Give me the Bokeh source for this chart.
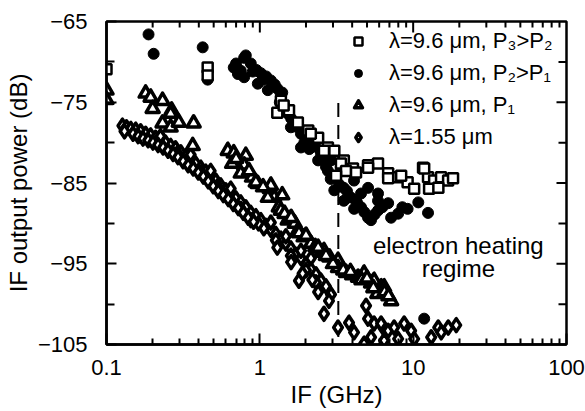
import math
from bokeh.plotting import figure
from bokeh.models import (FixedTicker, Legend, LegendItem,
                          CustomJSTickFormatter, Range1d)
from bokeh.core.properties import value
from bokeh.embed import file_html
from bokeh.resources import INLINE

FONT = "Liberation Sans"

# ---------------- data (IF in GHz, power in dB) ----------------
sq_f = [0.1, 0.457, 0.457, 1.372, 1.30, 1.55, 1.43, 1.77, 2.07, 2.40,
        2.78, 3.06, 3.53, 4.05, 2.15, 2.62, 3.38, 5.08, 5.90, 6.87,
        7.98, 9.2, 10.15, 11.6, 12.5, 13.7, 15.2, 16.9, 12.7, 14.6,
        18.2, 5.08, 6.87, 8.35, 11.8, 3.65, 3.14, 4.24]
sq_db = [-70.9, -70.7, -71.7, -74.8, -76.3, -76.0, -75.4, -77.5, -78.5, -79.4,
         -80.6, -81.0, -82.2, -83.2, -78.9, -81.0, -82.6, -82.8, -82.6, -83.8,
         -84.3, -84.9, -85.7, -83.1, -84.3, -84.7, -84.3, -84.7, -85.7, -85.6,
         -84.4, -83.1, -84.4, -84.1, -83.2, -83.5, -84.1, -83.7]

ci_f = [0.188, 0.203, 0.424, 0.457, 0.676, 0.79, 0.81, 0.873, 1.015, 1.18,
        1.30, 0.79, 0.97, 1.128, 0.751, 1.52, 1.594, 1.854, 1.854, 2.154,
        2.505, 2.912, 2.78, 3.06, 3.53, 3.93, 4.57, 5.08, 5.9, 6.87,
        7.18, 5.9, 7.98, 9.2, 10.8, 12.5, 3.383, 4.116, 5.08, 4.57,
        5.9, 3.53, 3.06, 5.31, 4.12, 11.8,
        1.37, 1.45, 1.7, 2.0, 2.3, 2.6,
        0.70, 0.72, 0.9, 1.05, 1.1, 1.25,
        0.95, 1.2, 1.35, 1.4, 1.6, 1.75, 1.95, 2.1, 2.4, 2.7,
        2.9, 3.3, 3.7, 4.3, 4.8, 5.6, 6.3, 8.5]
ci_db = [-66.6, -69.0, -68.2, -72.2, -70.7, -69.5, -69.2, -70.2, -71.4, -72.3,
         -73.3, -71.9, -72.7, -73.5, -71.1, -76.4, -78.1, -78.9, -80.6, -79.7,
         -81.3, -82.2, -83.5, -84.3, -85.6, -86.8, -88.0, -89.3, -88.4, -87.5,
         -89.3, -87.2, -88.8, -88.2, -87.4, -88.7, -83.5, -84.7, -85.6, -86.3,
         -86.3, -87.2, -85.9, -89.6, -88.2, -101.8,
         -74.0, -75.5, -78.0, -79.5, -80.5, -82.0,
         -70.2, -71.5, -71.2, -72.2, -71.8, -72.8,
         -71.0, -73.0, -75.0, -73.8, -77.0, -77.8, -80.0, -80.8, -82.2, -83.0,
         -84.5, -85.2, -86.0, -87.4, -88.6, -88.9, -88.0, -88.0]

tr_f = [0.1, 0.1, 0.180, 0.194, 0.232, 0.200, 0.266, 0.262, 0.232, 0.262,
        0.296, 0.37, 0.365, 0.618, 0.676, 0.81, 0.66, 0.79, 0.89, 0.97,
        1.16, 1.24, 1.33, 0.751, 0.942, 1.18, 1.128, 1.40, 1.372, 1.52,
        1.69, 1.772, 1.93, 2.154, 2.505, 2.62, 3.235, 3.235, 3.648, 4.372,
        4.782, 5.314, 5.56, 5.84, 6.178, 6.464, 7.181,
        2.3, 2.85, 3.0, 4.0,
        0.7, 0.85, 1.05, 1.45, 1.6, 1.8, 2.0, 2.4, 2.7, 3.5,
        3.9, 4.6, 5.0, 5.5, 6.5, 6.9]
tr_db = [-73.5, -74.7, -73.9, -74.4, -74.8, -75.8, -76.0, -76.4, -77.6, -78.1,
         -77.5, -77.6, -80.4, -81.0, -81.3, -81.6, -82.6, -82.8, -84.3, -85.1,
         -85.7, -86.8, -88.0, -83.8, -84.9, -85.3, -86.8, -86.5, -88.4, -89.6,
         -90.0, -90.9, -91.7, -92.5, -93.6, -93.4, -94.6, -95.5, -96.1, -96.7,
         -96.2, -97.4, -97.1, -98.7, -97.9, -97.9, -99.6,
         -92.9, -94.2, -95.0, -96.4,
         -82.0, -83.5, -85.5, -88.8, -89.3, -91.2, -91.5, -93.0, -94.0, -95.8,
         -96.0, -97.0, -96.8, -98.0, -98.5, -99.0]

di_f = [0.127, 0.135, 0.144, 0.155, 0.167, 0.180, 0.194, 0.209, 0.225, 0.243,
        0.262, 0.282, 0.305, 0.328, 0.354, 0.382, 0.412, 0.444, 0.478, 0.516,
        0.556, 0.600, 0.646, 0.697, 0.751, 0.810, 0.873, 0.942, 1.015, 1.094,
        1.180, 1.272, 1.372, 1.479, 1.594, 1.719, 1.854, 1.998, 2.154, 2.323,
        2.505, 2.701, 2.912,
        1.799, 2.825, 2.620, 3.235, 3.817, 4.116, 4.782, 5.080, 5.560, 6.367,
        4.929, 5.314, 6.178, 6.866, 7.513, 8.735, 9.70, 6.464, 7.980, 10.15,
        13.11, 14.57, 16.93, 15.24, 19.10,
        0.873, 1.062, 1.272, 1.594, 1.998, 2.323,
        1.180, 1.479, 1.854, 2.154,
        0.225, 0.354, 0.478, 0.646, 0.412, 0.751,
        1.3, 1.6, 1.9, 2.2, 2.4, 0.29, 0.53, 0.98,
        0.131, 0.149, 0.161, 0.173, 0.187, 0.201, 0.217, 0.234, 0.252, 0.272,
        0.293, 0.316, 0.341, 0.368, 0.397, 0.428, 0.461, 0.497, 0.536, 0.578,
        0.623, 0.672, 0.724, 0.78, 0.84, 0.91]
di_db = [-77.9, -78.1, -78.3, -78.4, -78.6, -78.9, -79.1, -79.4, -79.7, -80.0,
         -80.4, -80.7, -81.2, -81.7, -82.1, -82.6, -83.1, -83.6, -84.1, -84.7,
         -85.3, -85.9, -86.4, -86.9, -87.4, -88.0, -88.7, -89.1, -89.6, -90.3,
         -90.8, -91.3, -91.9, -92.5, -93.1, -93.9, -94.3, -95.1, -95.7, -96.3,
         -97.1, -97.8, -98.8,
         -97.1, -99.6, -101.2, -102.9, -102.3, -103.5, -104.9, -101.8, -102.4, -102.9,
         -100.2, -104.1, -102.4, -103.3, -102.9, -102.4, -103.3, -104.5, -104.3, -104.3,
         -104.1, -102.9, -102.9, -103.5, -102.6,
         -89.6, -90.6, -92.1, -94.0, -95.8, -97.3,
         -89.9, -91.6, -93.4, -94.3,
         -79.2, -81.5, -83.5, -85.7, -83.7, -88.2,
         -93.0, -94.8, -96.2, -97.0, -98.5, -81.3, -85.4, -90.0,
         -78.6, -78.9, -79.2, -79.5, -79.7, -80.0, -80.3, -80.6, -81.0, -81.4,
         -81.8, -82.3, -82.8, -83.2, -83.7, -84.2, -84.8, -85.4, -86.0, -86.5,
         -87.0, -87.6, -88.1, -88.7, -89.3, -89.8]

legend_labels = ["λ=9.6 μm, P₃>P₂", "λ=9.6 μm, P₂>P₁", "λ=9.6 μm, P₁", "λ=1.55 μm"]

x_major = [0.1, 1, 10, 100]
x_minor = [0.2, 0.3, 0.4, 0.5, 0.6, 0.7, 0.8, 0.9, 2, 3, 4, 5, 6, 7, 8, 9,
           20, 30, 40, 50, 60, 70, 80, 90]
y_major = [-105, -95, -85, -75, -65]
y_minor = [-100, -90, -80, -70]
x_lo, x_hi = 0.1, 100
y_lo, y_hi = -105, -65

regime_f = 3.25         # dashed boundary (GHz)
regime_top = -75.1
note_f = 19.7
note_lines = ["electron heating", "regime"]
note_db = [-92.7, -95.6]

# ---------------- figure ----------------
p = figure(width=585, height=411, x_axis_type="log",
           x_range=Range1d(x_lo, x_hi), y_range=Range1d(y_lo, y_hi),
           output_backend="svg", toolbar_location=None,
           min_border_left=106, min_border_right=19,
           min_border_top=21, min_border_bottom=67,
           x_axis_label="IF (GHz)", y_axis_label="IF output power (dB)")
p.xgrid.visible = False
p.ygrid.visible = False
p.outline_line_color = "black"
p.outline_line_width = 2.5
p.background_fill_color = "white"
p.border_fill_color = "white"

xt = FixedTicker(ticks=x_major, minor_ticks=x_minor)
yt = FixedTicker(ticks=y_major, minor_ticks=y_minor)


def style(ax, maj, mnr):
    ax.axis_line_width = 2.5
    ax.axis_line_color = "black"
    ax.major_tick_line_width = 2
    ax.minor_tick_line_width = 2
    ax.major_tick_in = maj
    ax.major_tick_out = 0
    ax.minor_tick_in = mnr
    ax.minor_tick_out = 0
    ax.major_label_text_font = FONT
    ax.major_label_text_font_size = "22px"
    ax.major_label_text_color = "black"
    ax.axis_label_text_font = FONT
    ax.axis_label_text_font_size = "24px"
    ax.axis_label_text_font_style = "normal"
    ax.axis_label_text_color = "black"


xa = p.xaxis[0]
xa.ticker = xt
xa.formatter = CustomJSTickFormatter(code="return tick.toString();")
style(xa, 11, 6)
xa.major_label_standoff = 15
xa.axis_label_standoff = 3

ya = p.yaxis[0]
ya.ticker = yt
style(ya, 10, 8)
ya.major_label_standoff = 19
ya.axis_label_standoff = 3

# inward ticks on the top and right edges (mirroring the axes)
top_major = [t for t in x_major if x_lo < t < x_hi]
p.ray(x=top_major, y=[y_hi] * len(top_major), length=11, length_units="screen",
      angle=-math.pi / 2, line_color="black", line_width=2)
p.ray(x=x_minor, y=[y_hi] * len(x_minor), length=6, length_units="screen",
      angle=-math.pi / 2, line_color="black", line_width=2)
r_major = [t for t in y_major if y_lo < t < y_hi]
p.ray(x=[x_hi] * len(r_major), y=r_major, length=10, length_units="screen",
      angle=math.pi, line_color="black", line_width=2)
p.ray(x=[x_hi] * len(y_minor), y=y_minor, length=8, length_units="screen",
      angle=math.pi, line_color="black", line_width=2)

# boundary line and annotation
p.segment(x0=[regime_f], y0=[regime_top], x1=[regime_f], y1=[y_lo],
          line_color="black", line_width=2, line_dash="14 8")
p.text(x=[note_f] * 2, y=note_db, text=note_lines,
       text_font=value(FONT), text_font_size="24px", text_color="black",
       text_align="center", text_baseline="middle")

# data
r_di = p.scatter(di_f, di_db, marker="diamond", size=13,
                 fill_color="white", line_color="black", line_width=3.5,
                 line_join="round")
r_tr = p.scatter(tr_f, tr_db, marker="triangle", size=13, fill_color="white",
                 line_color="black", line_width=3.5, line_join="round")
r_ci = p.scatter(ci_f, ci_db, marker="circle", size=11, fill_color="black",
                 line_color="black", line_width=1)
r_sq = p.scatter(sq_f, sq_db, marker="square", size=10, fill_color="white",
                 line_color="black", line_width=2.5)

legend = Legend(items=[LegendItem(label=legend_labels[0], renderers=[r_sq]),
                       LegendItem(label=legend_labels[1], renderers=[r_ci]),
                       LegendItem(label=legend_labels[2], renderers=[r_tr]),
                       LegendItem(label=legend_labels[3], renderers=[r_di])],
                location=(242, 194))
legend.border_line_color = None
legend.background_fill_alpha = 0
legend.label_text_font = FONT
legend.label_text_font_size = "22px"
legend.label_text_color = "black"
legend.label_standoff = 21
legend.glyph_width = 20
legend.glyph_height = 20
legend.label_height = 24
legend.spacing = 6
legend.padding = 10
legend.margin = 0
p.add_layout(legend)

open("out.html", "w").write(file_html(p, INLINE))
